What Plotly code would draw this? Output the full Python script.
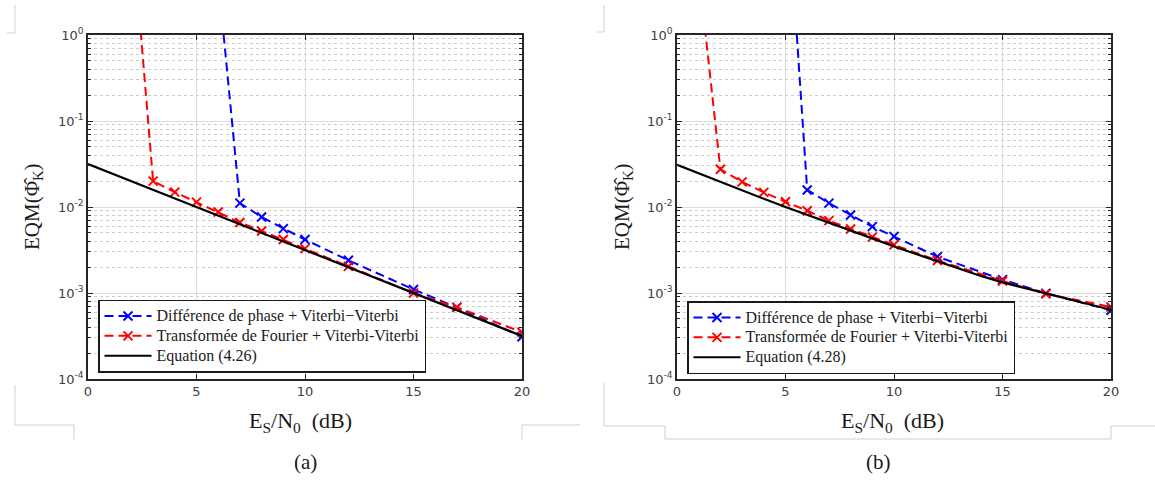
import plotly.graph_objects as go

# ---------------- data ----------------
# Panel (a)
xa_blue = [6, 7, 8, 9, 10, 12, 15, 17, 20]
ya_blue = [4.5, 0.0111, 0.00765, 0.0056, 0.00418, 0.0024, 0.0011, 0.00068, 0.00031]
xa_red = [2, 3, 4, 5, 6, 7, 8, 9, 10, 12, 15, 17, 20]
ya_red = [22.0, 0.020, 0.0149, 0.0114, 0.00875, 0.0066, 0.00526, 0.00418, 0.00328,
          0.00204, 0.0010, 0.00068, 0.00035]
xa_eq = [0, 5, 10, 15, 20]
ya_eq = [0.0316, 0.0100, 0.00316, 0.00100, 0.000316]

# Panel (b)
xb_blue = [5, 6, 7, 8, 9, 10, 12, 15, 17, 20]
yb_blue = [89.0, 0.0158, 0.0111, 0.00807, 0.00591, 0.00453, 0.00265, 0.00143, 0.00099, 0.00063]
xb_red = [1, 2, 3, 4, 5, 6, 7, 8, 9, 10, 12, 15, 17, 20]
yb_red = [5.4, 0.0275, 0.0196, 0.0148, 0.0115, 0.00906, 0.00694, 0.00556, 0.00446,
          0.00363, 0.00239, 0.00138, 0.00098, 0.000687]
xb_eq = list(range(0, 21))
yb_eq = [0.0309, 0.0245, 0.0195, 0.0155, 0.01245, 0.0100, 0.00813, 0.00661, 0.00537,
         0.00432, 0.00347, 0.00285, 0.00234, 0.00193, 0.00158, 0.00133, 0.00115,
         0.000977, 0.000851, 0.000733, 0.000638]

x_ticks = [0, 5, 10, 15, 20]
y_ticks = [1e-4, 1e-3, 1e-2, 1e-1, 1]
y_ticktext = ["10<sup>-4</sup>", "10<sup>-3</sup>", "10<sup>-2</sup>", "10<sup>-1</sup>", "10<sup>0</sup>"]
y_minor = [m * 10 ** e for e in range(-4, 0) for m in range(2, 10)]

name_blue = "Différence de phase + Viterbi−Viterbi"
name_red = "Transformée de Fourier + Viterbi-Viterbi"
name_eq_a = "Equation (4.26)"
name_eq_b = "Equation (4.28)"

# ---------------- layout helpers ----------------
W, H = 1155, 482
ML, MR, MT, MB = 88, 44, 35, 103
PW, PH = W - ML - MR, H - MT - MB


def px(xp):
    return (xp - ML) / PW


def py(yp):
    return (H - MB - yp) / PH


SERIF = "Liberation Serif"
SANS = "DejaVu Sans"


def big(txt):
    return ('<span style="font-family:\'Liberation Serif\',serif;font-size:16px">'
            + txt + "</span>")


BLUE = "#0000ff"
RED = "#ff0000"
DASH = "9px,5px"

fig = go.Figure()


def add_panel(xb, yb, xr, yr, xe, ye, eqname, xaxis, yaxis, legend):
    fig.add_trace(go.Scatter(x=xb, y=yb, name=big(name_blue), mode="lines+markers",
                             line=dict(color=BLUE, width=2, dash=DASH),
                             marker=dict(symbol="x-thin", size=9, color=BLUE,
                                         line=dict(color=BLUE, width=2)),
                             xaxis=xaxis, yaxis=yaxis, legend=legend))
    fig.add_trace(go.Scatter(x=xr, y=yr, name=big(name_red), mode="lines+markers",
                             line=dict(color=RED, width=2, dash=DASH),
                             marker=dict(symbol="x-thin", size=9, color=RED,
                                         line=dict(color=RED, width=2)),
                             xaxis=xaxis, yaxis=yaxis, legend=legend))
    fig.add_trace(go.Scatter(x=xe, y=ye, name=big(eqname), mode="lines",
                             line=dict(color="black", width=2.2),
                             xaxis=xaxis, yaxis=yaxis, legend=legend))


add_panel(xa_blue, ya_blue, xa_red, ya_red, xa_eq, ya_eq, name_eq_a, "x", "y", "legend")
add_panel(xb_blue, yb_blue, xb_red, yb_red, xb_eq, yb_eq, name_eq_b, "x2", "y2", "legend2")

xaxis_common = dict(range=[0, 20], tickvals=x_ticks, ticks="inside", ticklen=5,
                    tickcolor="#262626", showline=True, linecolor="#262626", linewidth=1.5,
                    mirror="allticks", showgrid=True, gridcolor="#dcdcdc", gridwidth=1.3,
                    zeroline=False, tickfont=dict(family=SANS, size=13, color="#404040"))
yaxis_common = dict(type="log", range=[-4, 0], tickvals=y_ticks, ticktext=y_ticktext,
                    ticks="inside", ticklen=5, tickcolor="#262626", showline=True,
                    linecolor="#262626", linewidth=1.5, mirror="allticks", showgrid=True,
                    gridcolor="#dcdcdc", gridwidth=1.3, zeroline=False,
                    tickfont=dict(family=SANS, size=13, color="#404040"),
                    minor=dict(tickvals=y_minor, showgrid=True, gridcolor="#cccccc",
                               griddash="dot", gridwidth=1, ticks="inside", ticklen=3,
                               tickcolor="#262626"))

legend_common = dict(bgcolor="white", bordercolor="#1a1a1a", borderwidth=1.5,
                     font=dict(family=SERIF, size=13, color="#1a1a1a"),
                     xanchor="left", yanchor="top", tracegroupgap=0, itemwidth=47)

fig.update_layout(
    width=W, height=H,
    margin=dict(l=ML, r=MR, t=MT, b=MB),
    paper_bgcolor="white", plot_bgcolor="white",
    showlegend=True,
    xaxis=dict(domain=[0, px(522)], anchor="y", **xaxis_common),
    yaxis=dict(domain=[0, 1], anchor="x", **yaxis_common),
    xaxis2=dict(domain=[px(677), 1], anchor="y2", **xaxis_common),
    yaxis2=dict(domain=[0, 1], anchor="x2", **yaxis_common),
    legend=dict(x=px(98), y=py(299.5), **legend_common),
    legend2=dict(x=px(687), y=py(301), **legend_common),
)

ylab = "EQM(Φ̂<sub>K</sub>)"
xlab = "E<sub>S</sub>/N<sub>0</sub>  (dB)"
ann = [
    (px(33), py(207), ylab, -90, 21),
    (px(623), py(207), ylab, -90, 21),
    (px(300), py(422), xlab, 0, 22),
    (px(892), py(422), xlab, 0, 22),
    (px(305), py(462), "(a)", 0, 21),
    (px(878), py(462), "(b)", 0, 21),
]
for ax, ay, txt, ang, fs in ann:
    fig.add_annotation(x=ax, y=ay, xref="paper", yref="paper", text=txt, textangle=ang,
                       showarrow=False, xanchor="center", yanchor="middle",
                       font=dict(family=SERIF, size=fs, color="#1a1a1a"))

# faint page-frame decoration lines
deco = [
    (15, 5, 15, 33), (7, 33, 15, 33),
    (15, 385, 15, 425), (15, 425, 74, 425), (74, 425, 74, 440),
    (522, 425, 522, 440), (522, 425, 580, 425),
    (604, 5, 604, 32), (597, 32, 604, 32),
    (604, 383, 604, 426), (604, 426, 665, 426), (665, 426, 665, 439),
    (665, 439, 1111, 439), (1111, 426, 1111, 439), (1111, 426, 1155, 426),
]
for x0, y0, x1, y1 in deco:
    fig.add_shape(type="line", xref="paper", yref="paper", x0=px(x0), y0=py(y0),
                  x1=px(x1), y1=py(y1), line=dict(color="#d0d0d0", width=1), layer="below")

fig.write_html("out.html", config={"displayModeBar": False},
               post_script="document.body.style.margin='0';document.body.style.overflow='hidden';")
